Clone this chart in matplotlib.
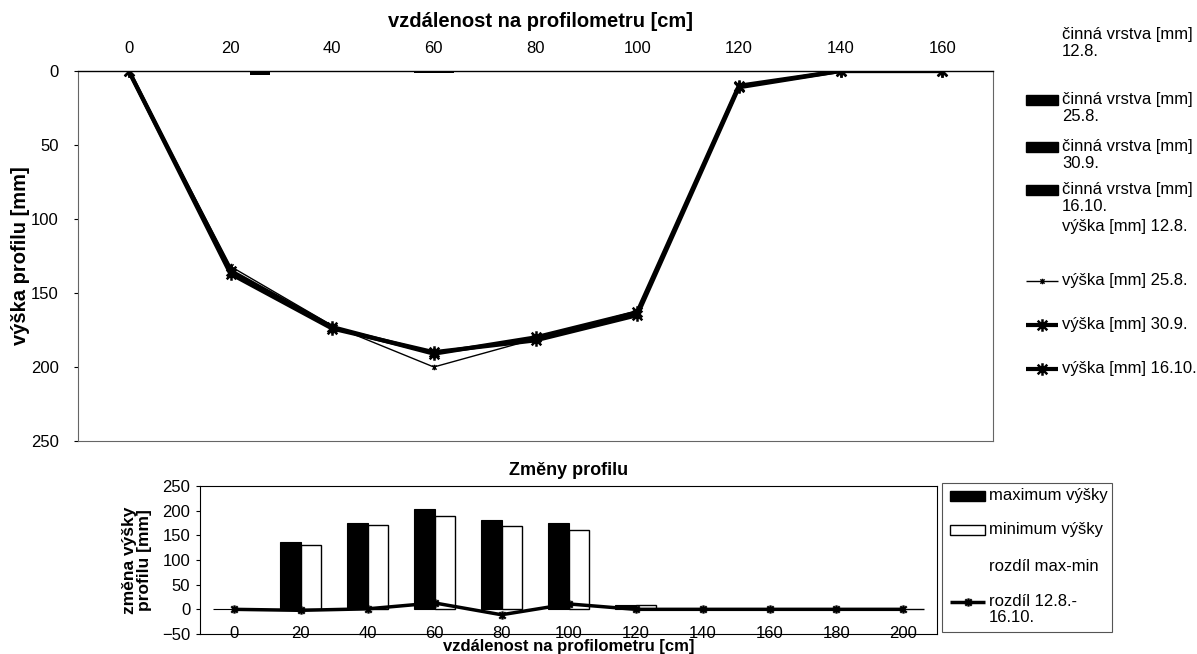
import matplotlib
matplotlib.use('Agg')
import matplotlib.pyplot as plt
from matplotlib.lines import Line2D
from matplotlib.patches import Rectangle
from matplotlib.path import Path

plt.rcParams['font.family'] = ['Liberation Sans', 'DejaVu Sans']
plt.rcParams['font.size'] = 12

W, H = 1197, 654

# horni graf - profil
vzdalenost = [0, 20, 40, 60, 80, 100, 120, 140, 160]
terminy = ['12.8.', '25.8.', '30.9.', '16.10.']

cinna_12_8 = [0, 0, 0, 0, 0, 0, 0, 0, 0]
cinna_25_8 = [0, 0.6, 0, 1.5, 0, 0, 0, 0, 0]
cinna_30_9 = [0, 0.6, 0, 1.5, 0, 0, 0, 0, 0]
cinna_16_10 = [0, 3, 0, 0.5, 0, 0, 0, 0, 0]

vyska_12_8 = [0, 134, 175, 204, 182, 176, 8, 0, 0]
vyska_25_8 = [0, 132, 172, 200, 181, 162, 10, 0, 0]
vyska_30_9 = [0, 135, 173, 191, 180, 163, 10, 0, 0]
vyska_16_10 = [0, 137, 174, 190, 182, 165, 11, 0, 0]

# dolni graf - zmeny profilu
vzdalenost_zmeny = [0, 20, 40, 60, 80, 100, 120, 140, 160, 180, 200]
maximum_vysky = [0, 137, 175, 204, 182, 176, 8, 0, 0, 0, 0]
minimum_vysky = [0, 130, 171, 190, 169, 160, 8, 0, 0, 0, 0]
rozdil_max_min = [0, 7, 4, 14, 13, 16, 0, 0, 0, 0, 0]
rozdil_12_8_16_10 = [0, -2, 1, 13, -11, 11, 0, 0, 0, 0, 0]

# hvezdicka jako v Excelu (X + svisla cara)
star = Path([(-1, -1), (1, 1), (-1, 1), (1, -1), (0, -1.3), (0, 1.3)],
            [Path.MOVETO, Path.LINETO, Path.MOVETO, Path.LINETO, Path.MOVETO, Path.LINETO])


def px(x, y):
    return x / W, 1 - y / H


fig = plt.figure(figsize=(W / 100, H / 100), dpi=100)

# ---------------- horni graf ----------------
l, b = px(78, 441)
r, t = px(993, 71)
ax1 = fig.add_axes([l, b, r - l, t - b])

bw = 3.9
cinna = [cinna_12_8, cinna_25_8, cinna_30_9, cinna_16_10]
offs = [-1.5 * bw, -0.5 * bw, 0.5 * bw, 1.5 * bw]
for i, (vals, off) in enumerate(zip(cinna, offs)):
    fc = 'none' if i == 0 else 'black'
    ax1.bar([x + off for x in vzdalenost], vals, width=bw, color=fc, edgecolor='none')

ax1.plot(vzdalenost, vyska_12_8, ls='none', marker='none')
ax1.plot(vzdalenost, vyska_25_8, color='black', lw=1.0, marker=star, ms=4, mew=1)
ax1.plot(vzdalenost, vyska_30_9, color='black', lw=3.0, marker=star, ms=9, mew=1.8)
ax1.plot(vzdalenost, vyska_16_10, color='black', lw=3.0, marker=star, ms=9, mew=1.8)

ax1.set_xlim(-10, 170)
ax1.set_ylim(250, 0)
ax1.set_xticks(vzdalenost)
ax1.set_yticks([0, 50, 100, 150, 200, 250])
ax1.xaxis.tick_top()
ax1.xaxis.set_label_position('top')
ax1.tick_params(axis='x', length=0, pad=11, labelsize=12)
ax1.tick_params(axis='y', length=3, pad=11, labelsize=12)
ax1.set_xlabel('vzdálenost na profilometru [cm]', fontsize=14.5, fontweight='bold')
ax1.xaxis.set_label_coords(0.505, 1.12)
ax1.set_ylabel('výška profilu [mm]', fontsize=14.5, fontweight='bold')
ax1.yaxis.set_label_coords(-0.0525, 0.5)
for s in ['left', 'right', 'bottom']:
    ax1.spines[s].set_color('#666666')
    ax1.spines[s].set_linewidth(0.8)
ax1.spines['top'].set_linewidth(1.0)

# ---------------- dolni graf ----------------
l, b = px(200, 634)
r, t = px(937, 486)
ax2 = fig.add_axes([l, b, r - l, t - b])

bw2 = 6
ax2.bar([x - bw2 / 2 for x in vzdalenost_zmeny], maximum_vysky, width=bw2,
        color='black', edgecolor='black', lw=0.8)
ax2.bar([x + bw2 / 2 for x in vzdalenost_zmeny], minimum_vysky, width=bw2,
        color='white', edgecolor='black', lw=1.0)
ax2.plot(vzdalenost_zmeny, rozdil_max_min, ls='none', marker='none')
ax2.plot(vzdalenost_zmeny, rozdil_12_8_16_10, color='black', lw=2.5,
         marker=star, ms=6, mew=1.6)

ax2.set_xlim(-10, 210)
ax2.set_ylim(-50, 250)
ax2.set_xticks(vzdalenost_zmeny)
ax2.set_yticks([-50, 0, 50, 100, 150, 200, 250])
ax2.tick_params(axis='x', length=0, pad=-6, labelsize=12)
ax2.tick_params(axis='y', length=3, pad=4, labelsize=12)
ax2.set_title('Změny profilu', fontsize=13, fontweight='bold', pad=8)
ax2.set_xlabel('vzdálenost na profilometru [cm]', fontsize=12, fontweight='bold', labelpad=-1)
ax2.set_ylabel('změna výšky\nprofilu [mm]', fontsize=12.5, fontweight='bold', linespacing=1.0)
ax2.yaxis.set_label_coords(-0.065, 0.5)
for s in ax2.spines.values():
    s.set_linewidth(0.8)


# ---------------- legendy ----------------
def entry(y, text, kind, hx0, hx1, tx, ls=1.2, **kw):
    fig.text(*px(tx, y), text, va='top', ha='left', fontsize=12, linespacing=ls)
    yc = y + 8
    if kind == 'bar':
        x0, y0 = px(hx0, yc + 5)
        x1, y1 = px(hx1, yc - 5)
        fig.add_artist(Rectangle((x0, y0), x1 - x0, y1 - y0, transform=fig.transFigure,
                                 facecolor=kw.get('fc', 'black'), edgecolor='black', lw=1.0))
    elif kind == 'line':
        x0, yy = px(hx0, yc)
        x1, _ = px(hx1, yc)
        fig.add_artist(Line2D([x0, x1], [yy, yy], transform=fig.transFigure, color='black',
                              lw=kw['lw'], solid_capstyle='butt'))
        fig.add_artist(Line2D([(x0 + x1) / 2], [yy], transform=fig.transFigure, color='black',
                              marker=star, ms=kw['ms'], mew=kw['mew'], ls='none'))


leg1 = [
    ('činná vrstva [mm]\n' + terminy[0], None, {}),
    ('činná vrstva [mm]\n' + terminy[1], 'bar', {}),
    ('činná vrstva [mm]\n' + terminy[2], 'bar', {}),
    ('činná vrstva [mm]\n' + terminy[3], 'bar', {}),
    ('výška [mm] ' + terminy[0], None, {}),
    ('výška [mm] ' + terminy[1], 'line', dict(lw=1.0, ms=4, mew=1)),
    ('výška [mm] ' + terminy[2], 'line', dict(lw=3.0, ms=9, mew=1.8)),
    ('výška [mm] ' + terminy[3], 'line', dict(lw=3.0, ms=9, mew=1.8)),
]
leg1_y = [27, 92, 139, 182, 219, 273, 317, 361]
for (txt, kind, kw), y in zip(leg1, leg1_y):
    entry(y, txt, kind, 1026, 1058, 1062, **kw)

leg2 = [
    ('maximum výšky', 'bar', dict(fc='black')),
    ('minimum výšky', 'bar', dict(fc='white')),
    ('rozdíl max-min', None, {}),
    ('rozdíl 12.8.-\n16.10.', 'line', dict(lw=2.5, ms=6, mew=1.6)),
]
leg2_y = [488, 522, 559, 594]
for (txt, kind, kw), y in zip(leg2, leg2_y):
    entry(y, txt, kind, 950, 985, 989, ls=1.1, **kw)

x0, y0 = px(942, 632)
x1, y1 = px(1112, 483)
fig.add_artist(Rectangle((x0, y0), x1 - x0, y1 - y0, transform=fig.transFigure,
                         facecolor='none', edgecolor='#555555', lw=0.8))

fig.savefig('out.png', dpi=100)
